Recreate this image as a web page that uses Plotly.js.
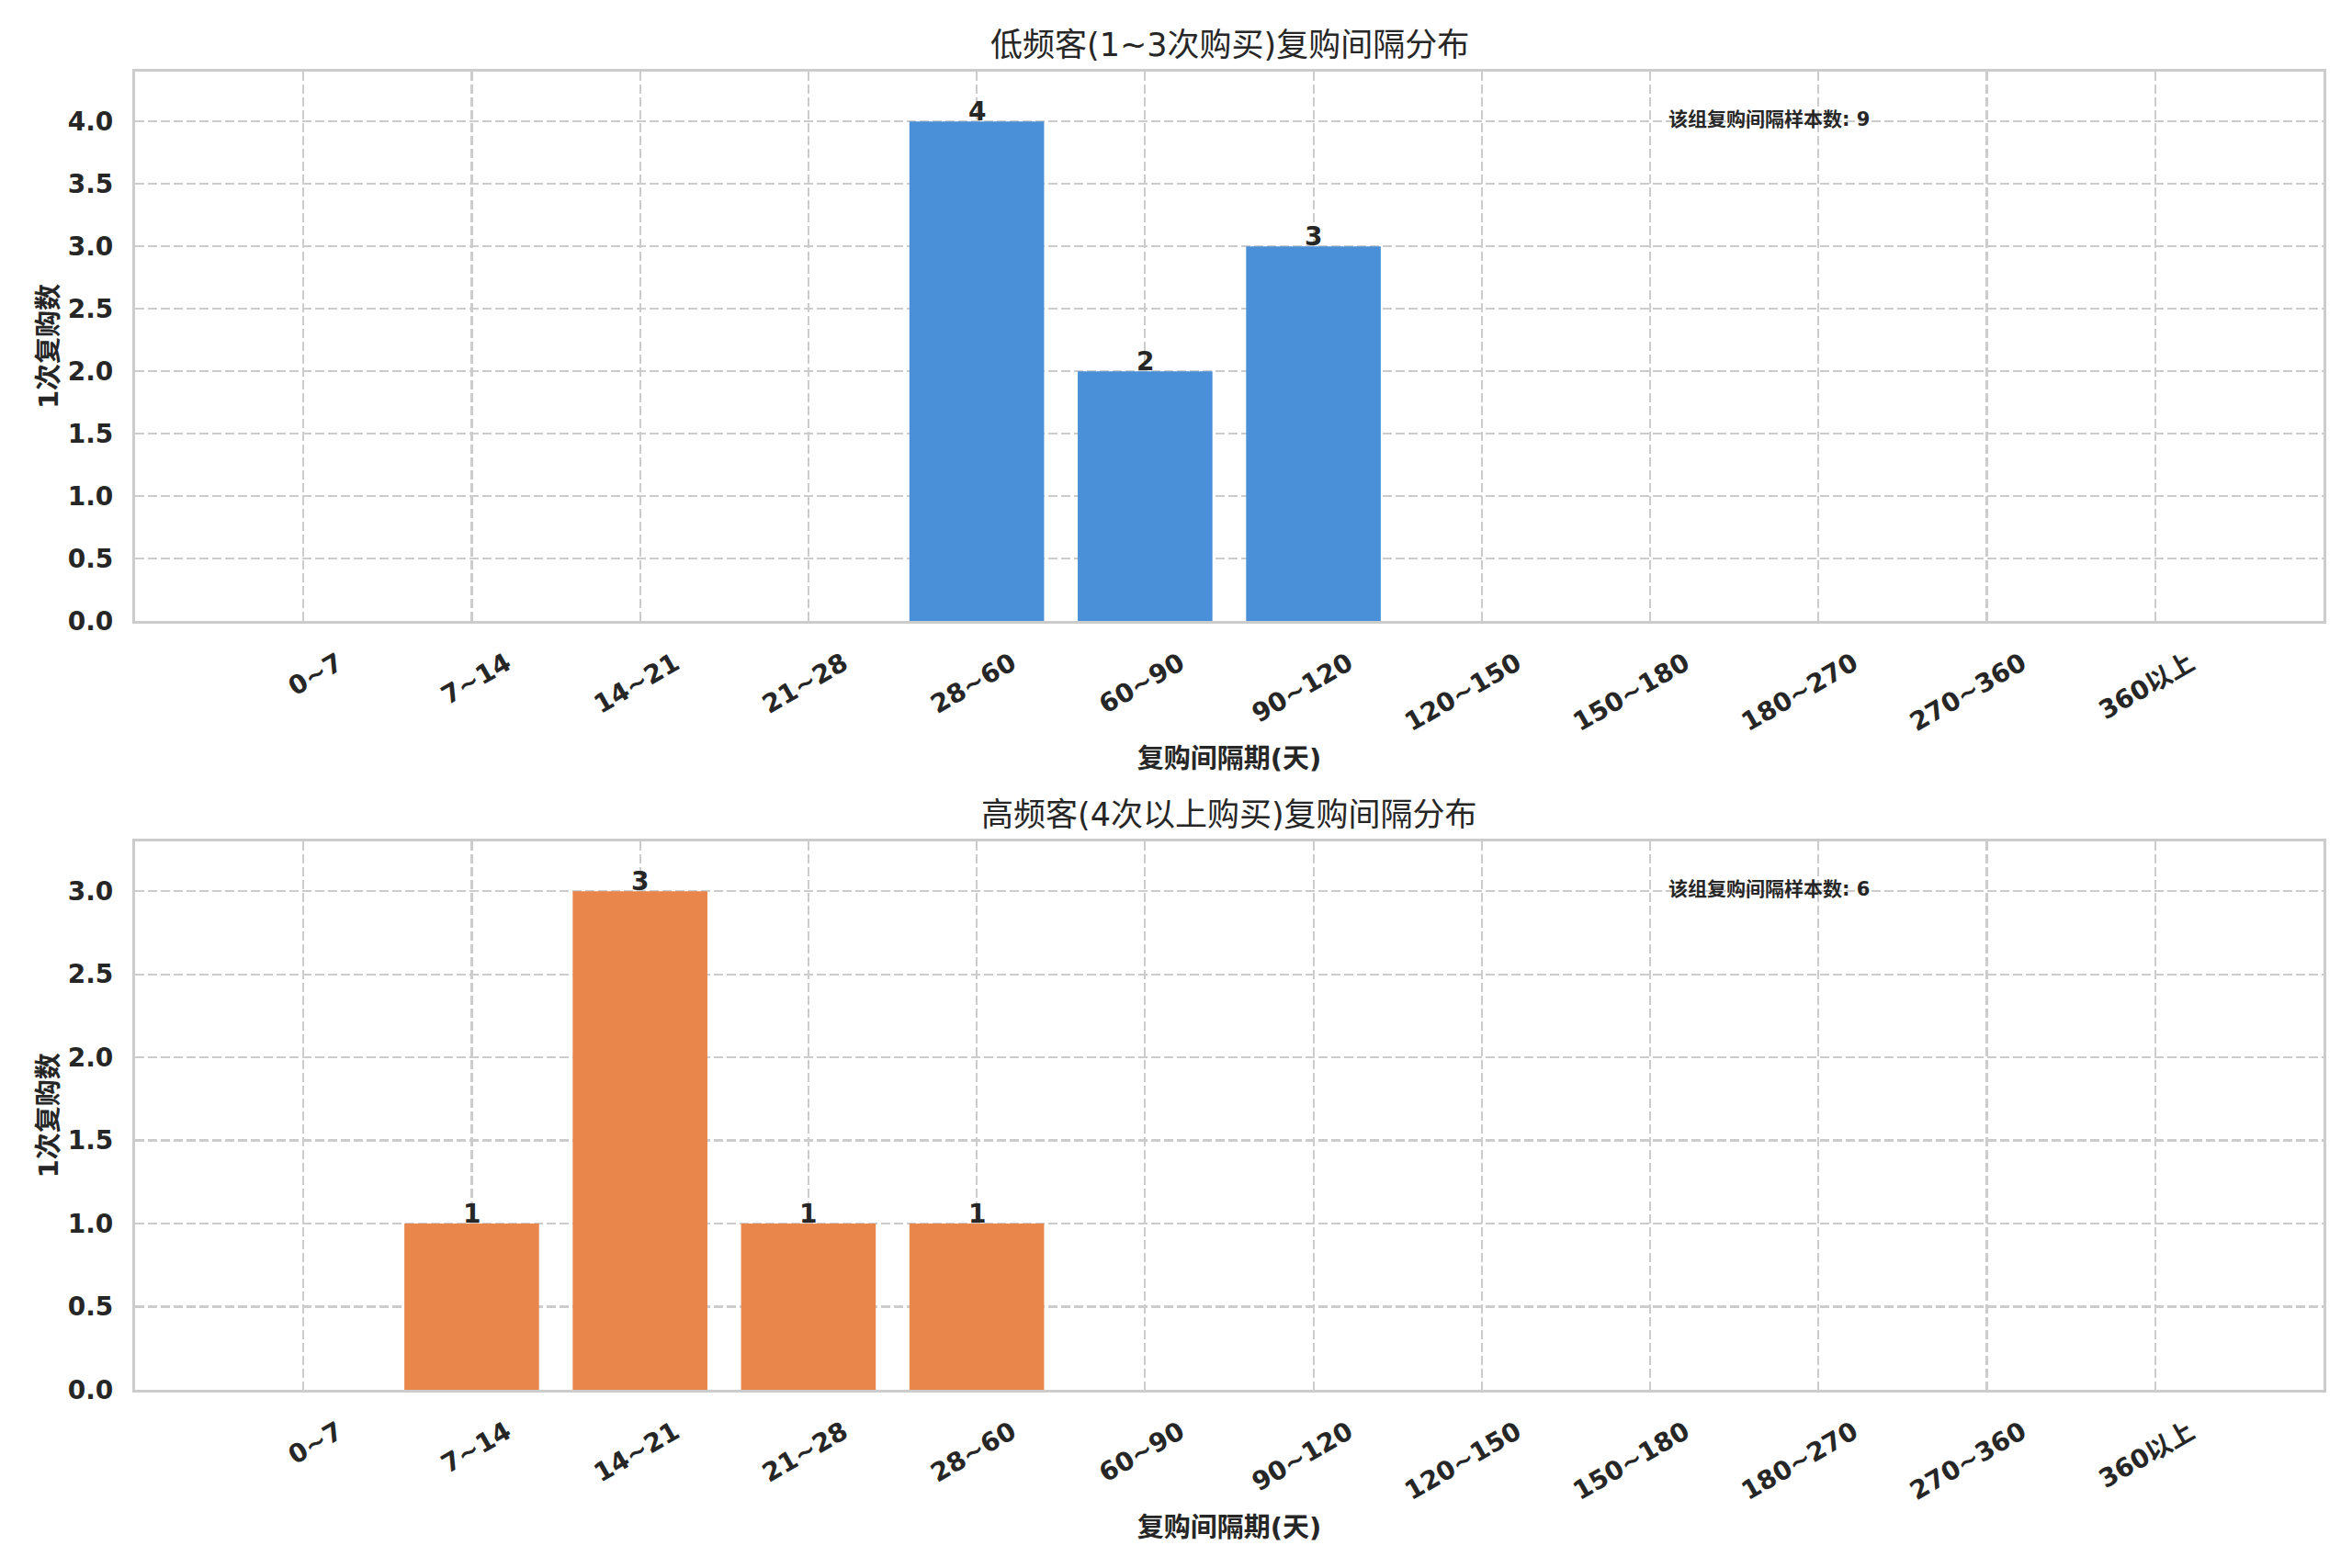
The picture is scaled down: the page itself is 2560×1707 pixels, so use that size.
<!DOCTYPE html>
<html>
<head>
<meta charset="utf-8">
<script src="https://cdn.plot.ly/plotly-3.0.1.min.js"></script>
<style>
  html, body { margin: 0; padding: 0; background: #ffffff; }
  #chart { width: 2560px; height: 1707px; }
</style>
</head>
<body>
<div id="chart"></div>
<script>
// intervalos de recompra (dias)
const categories = ["0~7", "7~14", "14~21", "21~28", "28~60", "60~90", "90~120",
  "120~150", "150~180", "180~270", "270~360", "360以上"];
// clientes de baja frecuencia (1~3 compras)
const lowFreqCounts = [0, 0, 0, 0, 4, 2, 3, 0, 0, 0, 0, 0];
// clientes de alta frecuencia (4+ compras)
const highFreqCounts = [0, 1, 3, 1, 1, 0, 0, 0, 0, 0, 0, 0];

const titleTop = "低频客(1~3次购买)复购间隔分布";
const titleBottom = "高频客(4次以上购买)复购间隔分布";
const xLabel = "复购间隔期(天)";
const yLabel = "1次复购数";
const totalLabel = "该组复购间隔样本数: ";

const FONT = "DejaVu Sans, Noto Sans CJK SC, sans-serif";
const TXT = "#262626";
const GRID = "#cccccc";

function total(vals) {
  return vals.reduce((a, b) => a + b, 0);
}

const barTrace = (vals, color, xa, ya) => ({
  x: categories,
  y: vals,
  type: "bar",
  xaxis: xa,
  yaxis: ya,
  width: 0.8,
  marker: { color: color },
  hoverinfo: "skip"
});

// etiquetas de valor encima de cada barra
function valueLabels(vals, xa, ya) {
  const out = [];
  vals.forEach((v, i) => {
    if (v <= 0) return;
    out.push({
      text: String(v), x: categories[i], y: v, xref: xa, yref: ya,
      xanchor: "center", yanchor: "bottom", yshift: -7, borderpad: 0,
      showarrow: false,
      font: { family: FONT, size: 28, color: TXT, weight: "bold" }
    });
  });
  return out;
}

const xaxisBase = (anchor) => ({
  anchor: anchor,
  type: "category",
  range: [-1, 12],
  domain: [0.0574, 0.9879],
  tickangle: -30,
  ticklabelshift: 38,
  ticklabelstandoff: 16,
  tickfont: { family: FONT, size: 28, color: TXT, weight: "bold" },
  showgrid: true,
  gridcolor: GRID,
  gridwidth: 2.2,
  griddash: "10px,4px",
  showline: true,
  mirror: true,
  linecolor: GRID,
  linewidth: 3,
  ticks: "",
  zeroline: false,
  title: { text: xLabel, font: { family: FONT, size: 29, color: TXT, weight: "bold" }, standoff: 14 }
});

const yaxisBase = (anchor, dom, top) => ({
  anchor: anchor,
  domain: dom,
  range: [0, top],
  dtick: 0.5,
  tickformat: ".1f",
  tickfont: { family: FONT, size: 28, color: TXT, weight: "bold" },
  ticklabelstandoff: 15,
  showgrid: true,
  gridcolor: GRID,
  gridwidth: 2.2,
  griddash: "10px,4px",
  showline: true,
  mirror: true,
  linecolor: GRID,
  linewidth: 3,
  ticks: "",
  zeroline: false,
  title: { text: yLabel, font: { family: FONT, size: 29, color: TXT, weight: "bold" }, standoff: 2 }
});

const data = [
  barTrace(lowFreqCounts, "#4a90d9", "x", "y"),
  barTrace(highFreqCounts, "#e8864b", "x2", "y2")
];

const layout = {
  width: 2560,
  height: 1707,
  margin: { l: 0, r: 0, t: 0, b: 0 },
  paper_bgcolor: "#ffffff",
  plot_bgcolor: "#ffffff",
  showlegend: false,
  font: { family: FONT, color: TXT },
  xaxis: xaxisBase("y"),
  yaxis: yaxisBase("x", [0.6040, 0.9543], Math.max(...lowFreqCounts) * 1.1),
  xaxis2: xaxisBase("y2"),
  yaxis2: yaxisBase("x2", [0.1137, 0.4634], Math.max(...highFreqCounts) * 1.1),
  annotations: [
    {
      text: titleTop, xref: "paper", yref: "paper", x: 0.5227, y: 0.9713,
      xanchor: "center", yanchor: "middle", showarrow: false,
      font: { family: FONT, size: 35, color: TXT }
    },
    {
      text: titleBottom, xref: "paper", yref: "paper", x: 0.5227, y: 0.4804,
      xanchor: "center", yanchor: "middle", showarrow: false,
      font: { family: FONT, size: 35, color: TXT }
    },
    {
      text: totalLabel + total(lowFreqCounts), xref: "x domain", yref: "y domain",
      x: 0.7, y: 0.913, xanchor: "left", yanchor: "middle", showarrow: false,
      font: { family: FONT, size: 21, color: TXT, weight: "bold" }
    },
    {
      text: totalLabel + total(highFreqCounts), xref: "x2 domain", yref: "y2 domain",
      x: 0.7, y: 0.913, xanchor: "left", yanchor: "middle", showarrow: false,
      font: { family: FONT, size: 21, color: TXT, weight: "bold" }
    }
  ].concat(valueLabels(lowFreqCounts, "x", "y"), valueLabels(highFreqCounts, "x2", "y2"))
};

Plotly.newPlot("chart", data, layout, { staticPlot: true });
</script>
</body>
</html>
